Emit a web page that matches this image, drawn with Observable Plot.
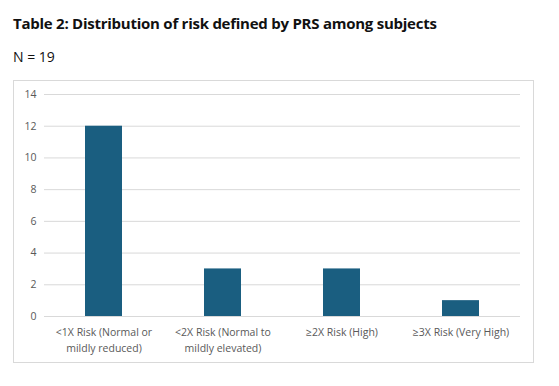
<!DOCTYPE html>
<html><head><meta charset="utf-8">
<script src="https://cdn.jsdelivr.net/npm/d3@7"></script>
<script src="https://cdn.jsdelivr.net/npm/@observablehq/plot@0.6"></script>
<style>
body{margin:0;background:#fff;font-family:"Open Sans",sans-serif;}
#title{position:absolute;left:13px;top:13px;font:bold 15px "Open Sans",sans-serif;color:#111;white-space:nowrap;letter-spacing:-0.25px}
#sub{position:absolute;left:13px;top:47px;font:14px "Open Sans",sans-serif;color:#111}
#box{position:absolute;left:13px;top:80px;width:521px;height:283px;border:1px solid #d9d9d9;box-sizing:border-box}
#box svg{display:block}
</style></head><body>
<div id="title">Table 2: Distribution of risk defined by PRS among subjects</div>
<div id="sub">N = 19</div>
<div id="box"></div>
<script>
const categories = ["<1X Risk (Normal or\nmildly reduced)", "<2X Risk (Normal to\nmildly elevated)", "≥2X Risk (High)", "≥3X Risk (Very High)"];
const counts = [12, 3, 3, 1];
const yTicks = [0, 2, 4, 6, 8, 10, 12, 14];
const data = categories.map((c, i) => ({category: c, count: counts[i]}));
const chart = Plot.plot({
  width: 519, height: 281,
  marginLeft: 30, marginRight: 13, marginTop: 13, marginBottom: 46,
  style: {fontFamily: "Open Sans, sans-serif", fontSize: "10.5px", color: "#595959", background: "#fff"},
  x: {domain: categories, paddingInner: 0.69, paddingOuter: 0.345, label: null},
  y: {domain: [0, 14], label: null},
  marks: [
    Plot.gridY(yTicks, {stroke: "#d9d9d9", strokeOpacity: 1}),
    Plot.axisY(yTicks, {tickSize: 0, tickPadding: 8, label: null, fill: "#595959", fontSize: 10.5}),
    Plot.axisX({tickSize: 0, tickPadding: 9, label: null, fill: "#595959", fontSize: 10.5, lineHeight: 1.45}),
    Plot.barY(data, {x: "category", y: "count", fill: "#1a5e80"})
  ]
});
document.getElementById("box").appendChild(chart);
</script>
</body></html>
